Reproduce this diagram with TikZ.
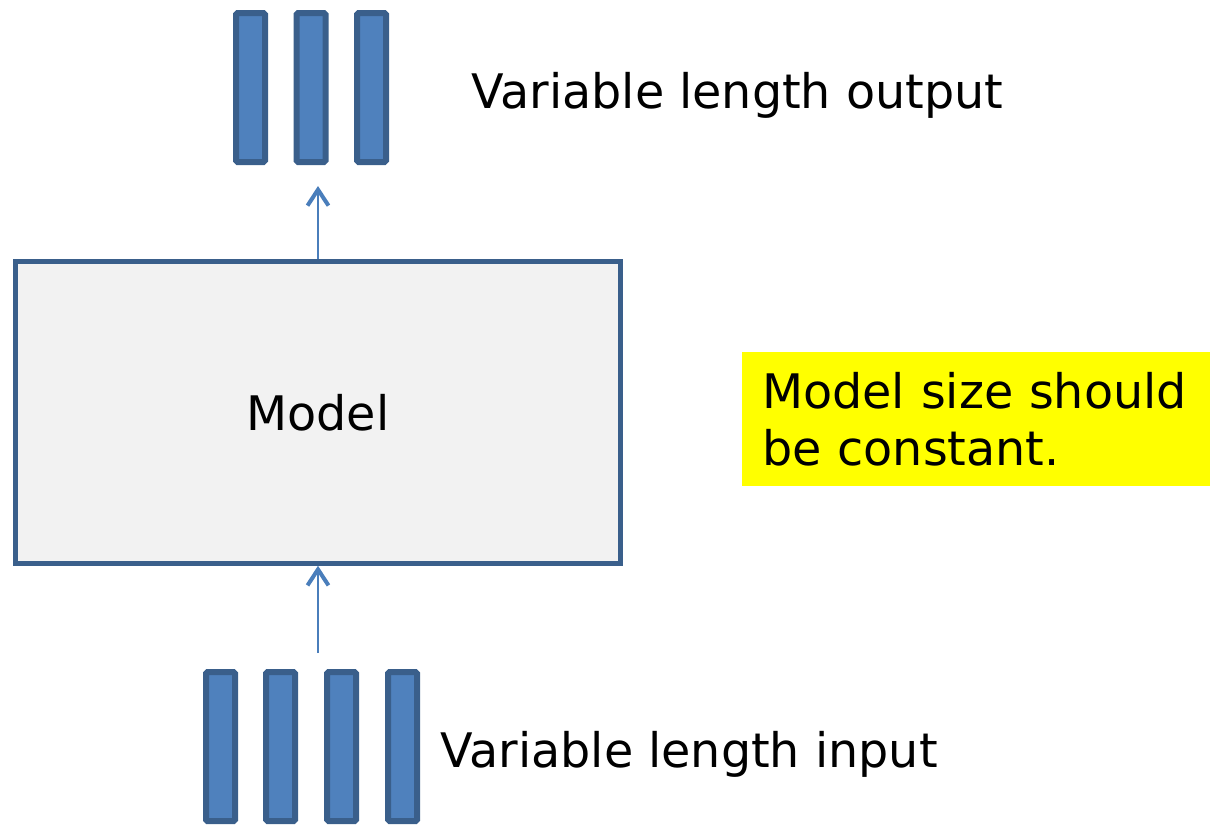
\documentclass[tikz,border=0pt]{standalone}
\usepackage{fontspec}
\setmainfont{DejaVu Sans}
\usepackage{xcolor}
\usetikzlibrary{arrows.meta, positioning}

\definecolor{barfill}{HTML}{4F81BD}
\definecolor{barline}{HTML}{3A5F8B}
\definecolor{boxfill}{HTML}{F2F2F2}
\definecolor{arrowblue}{HTML}{4A7EBB}
\definecolor{notefill}{RGB}{255,255,0}

\begin{document}
\begin{tikzpicture}[
    x=1pt, y=-1pt,
    every node/.style={font=\fontsize{47.6pt}{57pt}\selectfont},
    bar/.style={draw=barline, fill=barfill, line width=6pt, rounded corners=1.5pt,
        minimum width=29pt, minimum height=149pt, inner sep=0pt},
    flow/.style={draw=arrowblue, line width=2pt,
        -{Straight Barb[length=16pt, width=21pt, line width=4pt]}},
]
\useasboundingbox (0,0) rectangle (1219,825);

% Output sequence
\node[bar] (out1) at (250.5, 87.5) {};
\node[bar] (out2) at (311, 87.5) {};
\node[bar] (out3) at (371.5, 87.5) {};
\node[anchor=base west] (outlabel) at (468, 108) {Variable length output};

% Model
\node[draw=barline, fill=boxfill, line width=4.5pt, minimum width=605pt,
    minimum height=302pt, inner sep=0pt] (model) at (318, 412.5) {Model};

% Input sequence
\node[bar] (in1) at (220.5, 746.5) {};
\node[bar] (in2) at (280.5, 746.5) {};
\node[bar] (in3) at (341.5, 746.5) {};
\node[bar] (in4) at (402.5, 746.5) {};
\node[anchor=base west] (inlabel) at (437, 767) {Variable length input};

% Arrows
\coordinate (outtip) at (318, 186);
\coordinate (infoot) at (318, 653);
\draw[flow] (model.north) -- (outtip);
\draw[flow] (infoot) -- (model.south);

% Note
\node[fill=notefill, anchor=north west, text width=428pt, align=left,
    inner xsep=20pt, inner ysep=0pt, minimum height=134pt] (note) at (742, 352)
    {Model size should\\be constant.};

\end{tikzpicture}
\end{document}
